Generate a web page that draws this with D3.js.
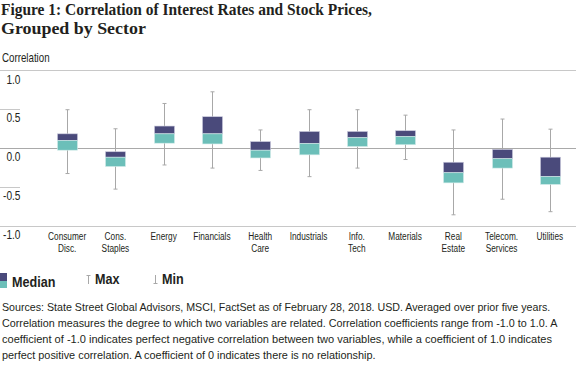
<!DOCTYPE html>
<html>
<head>
<meta charset="utf-8">
<script src="https://cdn.jsdelivr.net/npm/d3@7"></script>
<style>
  html, body { margin: 0; padding: 0; background: #fff; }
  svg { display: block; }
  .narrow { font-family: "Liberation Sans", Arial, sans-serif; fill: #231f20; }
  .title { font-family: "Liberation Serif", "DejaVu Serif", serif; font-weight: bold; font-size: 16px; fill: #231f20; }
</style>
</head>
<body>
<svg id="chart" width="576" height="377"></svg>
<script>
// ── Data ────────────────────────────────────────────────────────────────────
const categories = [
  ["Consumer", "Disc."], ["Cons.", "Staples"], ["Energy"], ["Financials"],
  ["Health", "Care"], ["Industrials"], ["Info.", "Tech"], ["Materials"],
  ["Real", "Estate"], ["Telecom.", "Services"], ["Utilities"]
];
const maxVals    = [0.49, 0.245, 0.57, 0.72, 0.23, 0.49, 0.49, 0.42, 0.23, 0.37, 0.24];
const q3Vals     = [0.18, -0.05, 0.28, 0.40, 0.08, 0.21, 0.21, 0.22, -0.185, -0.02, -0.12];
const medianVals = [0.094, -0.12, 0.18, 0.18, -0.03, 0.055, 0.13, 0.145, -0.32, -0.14, -0.37];
const q1Vals     = [-0.03, -0.24, 0.06, 0.05, -0.13, -0.09, 0.017, 0.04, -0.45, -0.26, -0.47];
const minVals    = [-0.33, -0.53, -0.22, -0.26, -0.29, -0.37, -0.26, -0.15, -0.86, -0.66, -0.82];
const yTicks     = [1.0, 0.5, 0.0, -0.5, -1.0];

const titleLines = ["Figure 1: Correlation of Interest Rates and Stock Prices,", "Grouped by Sector"];
const noteLines = [
  "Sources: State Street Global Advisors, MSCI, FactSet as of February 28, 2018. USD. Averaged over prior five years.",
  "Correlation measures the degree to which two variables are related. Correlation coefficients range from -1.0 to 1.0. A",
  "coefficient of -1.0 indicates perfect negative correlation between two variables, while a coefficient of 1.0 indicates",
  "perfect positive correlation. A coefficient of 0 indicates there is no relationship."
];

const NAVY = "#4a4a7b", TEAL = "#6cbfb9", WHISK = "#a8a8a8";
const SX = 0.78; // horizontal squeeze to mimic a condensed face

const svg = d3.select("#chart");

// condensed-looking text: Arial metrics squeezed horizontally
function narrowText(parent, px, py, str, size, anchor = "start", sx = SX, weight = "normal") {
  return parent.append("text").attr("class", "narrow")
    .attr("transform", `translate(${px},${py}) scale(${sx},1)`)
    .attr("text-anchor", anchor)
    .style("font-size", size + "px")
    .style("font-weight", weight)
    .text(str);
}

// squeeze a text line so it spans a given width
function fitWidth(sel, px, py, w) {
  sel.each(function () {
    const natural = this.getComputedTextLength();
    d3.select(this).attr("transform", `translate(${px},${py}) scale(${w / natural},1)`);
  });
}

// ── Scales ──────────────────────────────────────────────────────────────────
const keys = categories.map(c => c.join(" "));
const x = d3.scaleBand().domain(keys).range([43, 574]).padding(0);
const y = d3.scaleLinear().domain([-1, 1]).range([225.7, 70]);
const boxW = 20;

// ── Title ───────────────────────────────────────────────────────────────────
const titleW = [371, 145];
titleLines.forEach((line, i) => {
  const t = svg.append("text").attr("class", "title").text(line);
  fitWidth(t, 1, 15 + i * 19, titleW[i]);
});

narrowText(svg, 2, 62, "Correlation", 12.5);

// ── Grid / axis ─────────────────────────────────────────────────────────────
const grid = svg.append("g");
yTicks.forEach(t => {
  const full = Math.abs(t) === 1 || t === 0;
  grid.append("line")
    .attr("x1", 0).attr("x2", full ? 576 : 20)
    .attr("y1", Math.round(y(t)) + 0.5).attr("y2", Math.round(y(t)) + 0.5)
    .attr("stroke", t === 0 ? "#a9a9a9" : "#c8c8c8")
    .attr("stroke-width", 1);
  narrowText(grid, 20.5, y(t) + 13.5, d3.format(".1f")(t).replace("−", "-"), 13, "end");
});

// ── Boxes ───────────────────────────────────────────────────────────────────
const rows = keys.map((k, i) => ({
  key: k, max: maxVals[i], q3: q3Vals[i], med: medianVals[i], q1: q1Vals[i], min: minVals[i]
}));

const g = svg.append("g").selectAll("g").data(rows).join("g")
  .attr("transform", d => `translate(${Math.round(x(d.key) + x.bandwidth() / 2) + 0.5},0)`);

g.append("line")
  .attr("y1", d => y(d.max)).attr("y2", d => y(d.min))
  .attr("stroke", WHISK).attr("stroke-width", 1);
g.append("line")
  .attr("x1", -2).attr("x2", 2)
  .attr("y1", d => y(d.max)).attr("y2", d => y(d.max))
  .attr("stroke", WHISK);
g.append("line")
  .attr("x1", -2).attr("x2", 2)
  .attr("y1", d => y(d.min)).attr("y2", d => y(d.min))
  .attr("stroke", WHISK);

g.append("rect")
  .attr("x", -boxW / 2).attr("width", boxW)
  .attr("y", d => y(d.q3)).attr("height", d => y(d.med) - y(d.q3))
  .attr("fill", NAVY).attr("stroke", "#c9c9dc").attr("stroke-width", 0.6);
g.append("rect")
  .attr("x", -boxW / 2).attr("width", boxW)
  .attr("y", d => y(d.med)).attr("height", d => y(d.q1) - y(d.med))
  .attr("fill", TEAL).attr("stroke", "#d4ecea").attr("stroke-width", 0.6);

// ── Category labels ─────────────────────────────────────────────────────────
categories.forEach((c, i) => {
  const cx = x(keys[i]) + x.bandwidth() / 2;
  c.forEach((line, j) => narrowText(svg, cx, 240 + j * 12, line, 11.5, "middle", 0.72));
});

// ── Legend ──────────────────────────────────────────────────────────────────
const lg = svg.append("g");
lg.append("rect").attr("x", 0).attr("y", 273).attr("width", 7).attr("height", 8).attr("fill", NAVY);
lg.append("rect").attr("x", 0).attr("y", 281).attr("width", 7).attr("height", 7).attr("fill", TEAL);
narrowText(lg, 12, 287, "Median", 14, "start", 0.9, "bold");

// max symbol
lg.append("line").attr("x1", 88.5).attr("x2", 88.5).attr("y1", 275).attr("y2", 284).attr("stroke", WHISK);
lg.append("line").attr("x1", 86.5).attr("x2", 90.5).attr("y1", 275.5).attr("y2", 275.5).attr("stroke", WHISK);
narrowText(lg, 95, 284, "Max", 14, "start", 0.9, "bold");

// min symbol
lg.append("line").attr("x1", 155.5).attr("x2", 155.5).attr("y1", 275).attr("y2", 284).attr("stroke", WHISK);
lg.append("line").attr("x1", 153.5).attr("x2", 157.5).attr("y1", 283.5).attr("y2", 283.5).attr("stroke", WHISK);
narrowText(lg, 162, 284, "Min", 14, "start", 0.9, "bold");

// ── Footnote ────────────────────────────────────────────────────────────────
const noteW = [549, 556, 551, 374];
noteLines.forEach((line, i) => {
  const t = svg.append("text").attr("class", "narrow")
    .style("font-size", "11.5px").text(line);
  fitWidth(t, 2, 311 + i * 16, noteW[i]);
});
</script>
</body>
</html>
